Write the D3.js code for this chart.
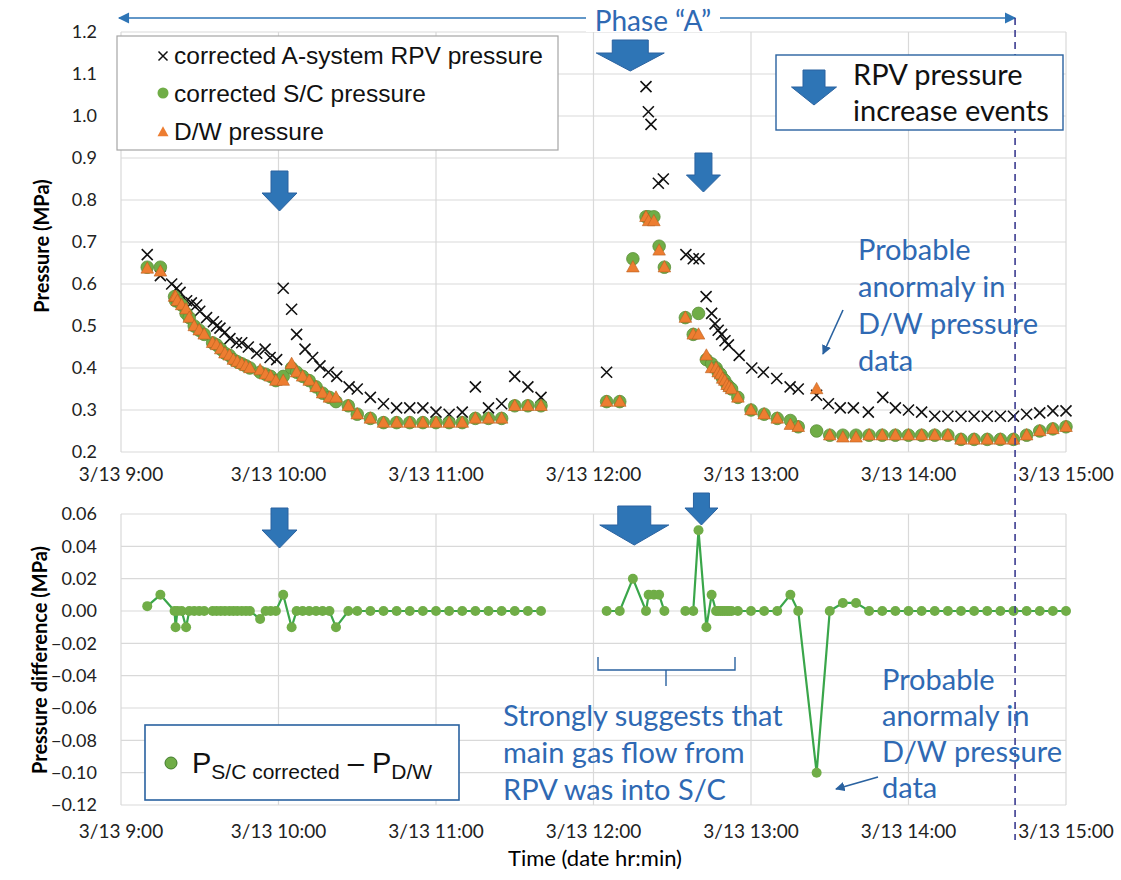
<!DOCTYPE html>
<html><head><meta charset="utf-8">
<script src="https://cdn.jsdelivr.net/npm/d3@7"></script>
<style>body{margin:0;background:#fff} svg{display:block}</style>
</head><body><svg id="c" width="1121" height="880"></svg>
<script>
// ---------- DATA (minutes after 3/13 9:00) ----------
const xTickMinutes = [0, 60, 120, 180, 240, 300, 360];
const xTickLabels = ["3/13 9:00", "3/13 10:00", "3/13 11:00", "3/13 12:00", "3/13 13:00", "3/13 14:00", "3/13 15:00"];
const pressureTicks = [0.2, 0.3, 0.4, 0.5, 0.6, 0.7, 0.8, 0.9, 1.0, 1.1, 1.2];
const diffTicks = [-0.12, -0.10, -0.08, -0.06, -0.04, -0.02, 0.00, 0.02, 0.04, 0.06];

// corrected A-system RPV pressure (MPa)
const rpvMinutes = [10, 15, 19.3, 21.2, 22.5, 25, 26.8, 28.8, 30, 32.6, 35.2, 36.4, 37.7, 39.6, 41.5, 44, 46, 48.5, 51.7, 54.9, 56.8, 59.3,
  61.8, 65, 66.9, 70.1, 73, 75.8, 79, 82.2, 86.9, 90, 95, 100, 105, 110, 115, 120, 125, 130, 135, 140, 145, 150, 155, 160,
  185, 200, 200.9, 201.9, 204.7, 206.6, 215.2, 218, 220.2, 222.9, 225, 226.3, 227.5, 228.8, 230.1, 231.4, 235.5, 240.3, 244.7,
  249.8, 254.9, 258, 265, 269.5, 274, 279, 284.7, 290.2, 295, 300, 305, 310, 315, 320, 325, 330, 335, 340, 345, 350, 355, 360];
const rpvPressure = [0.67, 0.62, 0.60, 0.59, 0.58, 0.56, 0.555, 0.55, 0.535, 0.52, 0.51, 0.50, 0.495, 0.485, 0.47, 0.46, 0.46, 0.45, 0.435, 0.445, 0.425, 0.42,
  0.59, 0.54, 0.48, 0.445, 0.425, 0.405, 0.39, 0.38, 0.355, 0.35, 0.33, 0.315, 0.305, 0.305, 0.305, 0.295, 0.29, 0.295, 0.355, 0.305, 0.315, 0.38, 0.355, 0.33,
  0.39, 1.07, 1.01, 0.98, 0.84, 0.85, 0.67, 0.66, 0.66, 0.57, 0.53, 0.505, 0.49, 0.48, 0.465, 0.455, 0.43, 0.40, 0.39,
  0.375, 0.355, 0.35, 0.335, 0.315, 0.305, 0.305, 0.295, 0.33, 0.305, 0.30, 0.295, 0.285, 0.285, 0.285, 0.285, 0.285, 0.285, 0.285, 0.29, 0.293, 0.298, 0.298];

// S/C and D/W samples share one time base
const sampleMinutes = [10, 15, 20.4, 20.8, 21.5, 23.1, 24.8, 26, 27.9, 29.8, 31.7, 34.9, 36.4, 38, 39.6, 41.3, 42.8, 44.3, 46, 47.6, 49.1,
  53, 55.1, 57, 59, 61.8, 65, 66.9, 69.2, 71.7, 74.3, 76.8, 79.4, 81.9, 86.6, 90, 95, 100, 105, 110, 115, 120, 125, 130, 135, 140, 145, 150, 155, 160,
  185, 190, 195, 200, 201, 203, 205, 207, 215, 218, 220, 223, 225, 226.7, 227.5, 228.4, 229.2, 230, 230.9, 231.7, 232.6,
  235, 240, 245, 250, 255, 258, 265, 270, 275, 280, 285, 290, 295, 300, 305, 310, 315, 320, 325, 330, 335, 340, 345, 350, 355, 360];
const scPressure = [0.64, 0.64, 0.57, 0.56, 0.56, 0.55, 0.53, 0.52, 0.50, 0.49, 0.48, 0.46, 0.455, 0.445, 0.435, 0.43, 0.42, 0.415, 0.41, 0.405, 0.40,
  0.39, 0.385, 0.38, 0.37, 0.38, 0.40, 0.39, 0.38, 0.37, 0.355, 0.34, 0.33, 0.32, 0.31, 0.29, 0.28, 0.27, 0.27, 0.27, 0.27, 0.27, 0.27, 0.27, 0.28, 0.28, 0.28, 0.31, 0.31, 0.31,
  0.32, 0.32, 0.66, 0.76, 0.76, 0.76, 0.69, 0.64, 0.52, 0.48, 0.53, 0.42, 0.41, 0.40, 0.39, 0.385, 0.375, 0.37, 0.36, 0.355, 0.35,
  0.33, 0.30, 0.29, 0.28, 0.275, 0.26, 0.25, 0.24, 0.24, 0.24, 0.24, 0.24, 0.24, 0.24, 0.24, 0.24, 0.24, 0.23, 0.23, 0.23, 0.23, 0.23, 0.24, 0.25, 0.255, 0.26];
const dwPressure = [0.637, 0.63, 0.57, 0.57, 0.56, 0.55, 0.54, 0.52, 0.50, 0.49, 0.48, 0.46, 0.455, 0.445, 0.435, 0.43, 0.42, 0.415, 0.41, 0.405, 0.40,
  0.395, 0.385, 0.38, 0.37, 0.37, 0.41, 0.39, 0.38, 0.37, 0.355, 0.34, 0.33, 0.33, 0.31, 0.29, 0.28, 0.27, 0.27, 0.27, 0.27, 0.27, 0.27, 0.27, 0.28, 0.28, 0.28, 0.31, 0.31, 0.31,
  0.32, 0.32, 0.64, 0.76, 0.75, 0.75, 0.68, 0.64, 0.52, 0.48, 0.48, 0.43, 0.40, 0.40, 0.39, 0.385, 0.375, 0.37, 0.36, 0.355, 0.35,
  0.33, 0.30, 0.29, 0.28, 0.265, 0.26, 0.35, 0.24, 0.235, 0.235, 0.24, 0.24, 0.24, 0.24, 0.24, 0.24, 0.24, 0.23, 0.23, 0.23, 0.23, 0.23, 0.24, 0.25, 0.255, 0.26];
// P_S/C corrected - P_D/W (MPa)
const pressureDiff = [0.003, 0.01, 0, -0.01, 0, 0, -0.01, 0, 0, 0, 0, 0, 0, 0, 0, 0, 0, 0, 0, 0, 0,
  -0.005, 0, 0, 0, 0.01, -0.01, 0, 0, 0, 0, 0, 0, -0.01, 0, 0, 0, 0, 0, 0, 0, 0, 0, 0, 0, 0, 0, 0, 0, 0,
  0, 0, 0.02, 0, 0.01, 0.01, 0.01, 0, 0, 0, 0.05, -0.01, 0.01, 0, 0, 0, 0, 0, 0, 0, 0,
  0, 0, 0, 0, 0.01, 0, -0.10, 0, 0.005, 0.005, 0, 0, 0, 0, 0, 0, 0, 0, 0, 0, 0, 0, 0, 0, 0, 0];
const diffLineBreaksAfter = [160, 207];   // no line drawn across these gaps
const phaseAEndMinute = 340.6;
const eventMinutesTop = [60, 194, 221.5];

// ---------- LAYOUT ----------
const svg = d3.select("#c");
const L = 121, R = 1066;
const x = d3.scaleLinear().domain([0, 360]).range([L, R]);
const yT = d3.scaleLinear().domain([0.2, 1.2]).range([452, 32]);
const yB = d3.scaleLinear().domain([-0.12, 0.06]).range([805, 514]);
const blue = "#2e75b6", txtBlue = "#2f69b3", grid = "#d9d9d9";
const tickFont = "Lato, 'Open Sans', sans-serif";

function gridAndAxes(y, ticks, fmt, top, bottom, xLabelY) {
  const g = svg.append("g");
  g.selectAll("line.h").data(ticks).join("line")
    .attr("x1", L).attr("x2", R).attr("y1", d => y(d)).attr("y2", d => y(d))
    .attr("stroke", grid).attr("stroke-width", 1.2);
  g.selectAll("line.v").data(xTickMinutes).join("line")
    .attr("x1", d => x(d)).attr("x2", d => x(d)).attr("y1", top).attr("y2", bottom)
    .attr("stroke", grid).attr("stroke-width", 1.2);
  g.selectAll("text.yl").data(ticks).join("text")
    .attr("x", 97).attr("y", d => y(d)).attr("dy", "0.35em").attr("text-anchor", "end")
    .attr("font-family", tickFont).attr("font-size", 18).attr("fill", "#222")
    .text(d => fmt(d));
  g.selectAll("text.xl").data(xTickMinutes).join("text")
    .attr("x", d => x(d)).attr("y", xLabelY).attr("dy", "0.35em").attr("text-anchor", "middle")
    .attr("font-family", tickFont).attr("font-size", 19).attr("fill", "#222")
    .text((d, i) => xTickLabels[i]);
}
gridAndAxes(yT, pressureTicks, d3.format(".1f"), 32, 452, 474);
gridAndAxes(yB, diffTicks, d3.format(".2f"), 514, 805, 831);

// axis titles
svg.append("text").attr("transform", "translate(49,246) rotate(-90)").attr("text-anchor", "middle")
  .attr("font-family", tickFont).attr("font-weight", "bold").attr("font-size", 20).text("Pressure (MPa)");
svg.append("text").attr("transform", "translate(47,660) rotate(-90)").attr("text-anchor", "middle")
  .attr("font-family", tickFont).attr("font-weight", "bold").attr("font-size", 20).text("Pressure difference (MPa)");
svg.append("text").attr("x", 595).attr("y", 866).attr("text-anchor", "middle")
  .attr("font-family", tickFont).attr("font-size", 22).text("Time (date hr:min)");

// ---------- MARKS ----------
const xMark = s => `M${-s},${-s}L${s},${s}M${-s},${s}L${s},${-s}`;
const triPath = s => `M0,${-s * 1.05}L${s},${s * 0.75}L${-s},${s * 0.75}Z`;

const rpv = rpvMinutes.map((m, i) => ({ m, v: rpvPressure[i] }));
const samples = sampleMinutes.map((m, i) => ({ m, sc: scPressure[i], dw: dwPressure[i], d: pressureDiff[i] }));

svg.append("g").selectAll("path").data(rpv).join("path")
  .attr("transform", d => `translate(${x(d.m)},${yT(d.v)})`).attr("d", xMark(5.5))
  .attr("stroke", "#111").attr("stroke-width", 1.6).attr("fill", "none");
svg.append("g").selectAll("circle").data(samples).join("circle")
  .attr("cx", d => x(d.m)).attr("cy", d => yT(d.sc)).attr("r", 6.3)
  .attr("fill", "#70ad47").attr("stroke", "#5a8f38").attr("stroke-width", 0.8);
svg.append("g").selectAll("path").data(samples).join("path")
  .attr("transform", d => `translate(${x(d.m)},${yT(d.dw)})`).attr("d", triPath(6.3))
  .attr("fill", "#ed7d31").attr("stroke", "#b9601f").attr("stroke-width", 0.6);

// difference series
const segs = [];
let cur = [];
samples.forEach(d => { cur.push(d); if (diffLineBreaksAfter.includes(d.m)) { segs.push(cur); cur = []; } });
if (cur.length) segs.push(cur);
const line = d3.line().x(d => x(d.m)).y(d => yB(d.d));
svg.append("g").selectAll("path").data(segs).join("path")
  .attr("d", line).attr("fill", "none").attr("stroke", "#3aa64a").attr("stroke-width", 2.2);
svg.append("g").selectAll("circle").data(samples).join("circle")
  .attr("cx", d => x(d.m)).attr("cy", d => yB(d.d)).attr("r", 5).attr("fill", "#70ad47");

// ---------- ANNOTATIONS ----------
function blockArrow(cx, top, sw, sb, hw, tip) {
  const p = [[cx - sw / 2, top], [cx + sw / 2, top], [cx + sw / 2, sb], [cx + hw / 2, sb], [cx, tip], [cx - hw / 2, sb], [cx - sw / 2, sb]];
  svg.append("path").attr("d", "M" + p.map(q => q.join(",")).join("L") + "Z")
    .attr("fill", blue).attr("stroke", "#2a62a0").attr("stroke-width", 1);
}
blockArrow(x(eventMinutesTop[0]) + 1, 171, 17, 193, 35, 211);
blockArrow(x(eventMinutesTop[1]), 40, 36, 53, 68, 71);
blockArrow(x(eventMinutesTop[2]) + 1, 153, 17, 175, 34, 192);
blockArrow(x(eventMinutesTop[0]) + 1, 508, 17, 530, 35, 548);
blockArrow(x(eventMinutesTop[1]) + 4, 506, 33, 525, 69, 545);
blockArrow(x(eventMinutesTop[2]) - 1, 493, 16, 508, 33, 525);

// Phase A arrow
const defs = svg.append("defs");
defs.append("marker").attr("id", "ah").attr("viewBox", "0 0 10 10").attr("refX", 9).attr("refY", 5)
  .attr("markerWidth", 9).attr("markerHeight", 7).attr("orient", "auto-start-reverse")
  .append("path").attr("d", "M0,0L10,5L0,10Z").attr("fill", blue);
svg.append("line").attr("x1", 119).attr("x2", x(phaseAEndMinute)).attr("y1", 18).attr("y2", 18)
  .attr("stroke", blue).attr("stroke-width", 1.6)
  .attr("marker-start", "url(#ah)").attr("marker-end", "url(#ah)");
svg.append("rect").attr("x", 586).attr("y", 2).attr("width", 134).attr("height", 30).attr("fill", "#fff");
svg.append("text").attr("x", 653).attr("y", 31).attr("text-anchor", "middle")
  .attr("font-family", tickFont).attr("font-size", 28).attr("fill", txtBlue).text("Phase “A”");

// dashed end of phase A
svg.append("line").attr("x1", x(phaseAEndMinute)).attr("x2", x(phaseAEndMinute)).attr("y1", 18).attr("y2", 840)
  .attr("stroke", "#3c3c90").attr("stroke-width", 1.6).attr("stroke-dasharray", "7,5");

// top legend
const lg = svg.append("g");
lg.append("rect").attr("x", 117).attr("y", 36).attr("width", 441).attr("height", 114)
  .attr("fill", "#fff").attr("stroke", "#a6a6a6").attr("stroke-width", 1.2);
const legItems = ["corrected A-system RPV pressure", "corrected S/C pressure", "D/W pressure"];
legItems.forEach((t, i) => {
  const cy = 55 + i * 38;
  lg.append("text").attr("x", 174).attr("y", cy).attr("dy", "0.36em")
    .attr("font-family", "'Liberation Sans', Arial, sans-serif").attr("font-size", 24.5).attr("fill", "#111").text(t);
});
lg.append("path").attr("transform", "translate(163,56)").attr("d", xMark(4.5)).attr("stroke", "#111").attr("stroke-width", 1.5);
lg.append("circle").attr("cx", 163).attr("cy", 93).attr("r", 5.5).attr("fill", "#70ad47");
lg.append("path").attr("transform", "translate(163,132)").attr("d", triPath(5.5)).attr("fill", "#ed7d31");

// RPV event legend box
svg.append("rect").attr("x", 776).attr("y", 55).attr("width", 287).attr("height", 75)
  .attr("fill", "#fff").attr("stroke", "#2a62a0").attr("stroke-width", 1.4);
blockArrow(814, 70, 22, 87, 45, 105);
["RPV pressure", "increase events"].forEach((t, i) => {
  svg.append("text").attr("x", 853).attr("y", 75 + i * 36).attr("dy", "0.36em")
    .attr("font-family", tickFont).attr("font-size", 29).attr("fill", "#111").text(t);
});

// blue notes
function note(lines, x0, y0, dy) {
  lines.forEach((t, i) => svg.append("text").attr("x", x0).attr("y", y0 + i * dy).attr("dy", "0.36em")
    .attr("font-family", tickFont).attr("font-size", 29).attr("fill", txtBlue).text(t));
}
note(["Probable", "anormaly in", "D/W pressure", "data"], 858, 250, 37);
note(["Probable", "anormaly in", "D/W pressure", "data"], 882, 680, 36);
note(["Strongly suggests that", "main gas flow from", "RPV was into S/C"], 503, 716, 37);

defs.append("marker").attr("id", "ah2").attr("viewBox", "0 0 10 10").attr("refX", 9).attr("refY", 5)
  .attr("markerWidth", 6).attr("markerHeight", 6).attr("orient", "auto")
  .append("path").attr("d", "M0,0L10,5L0,10Z").attr("fill", "#2a62a0");
svg.append("line").attr("x1", 843).attr("y1", 310).attr("x2", 823).attr("y2", 354)
  .attr("stroke", "#2a62a0").attr("stroke-width", 1.6).attr("marker-end", "url(#ah2)");
svg.append("line").attr("x1", 878).attr("y1", 777).attr("x2", 836).attr("y2", 789)
  .attr("stroke", "#2a62a0").attr("stroke-width", 1.6).attr("marker-end", "url(#ah2)");

// bracket
svg.append("path").attr("d", "M598,657L598,670L735,670L735,657M666,670L666,686")
  .attr("fill", "none").attr("stroke", "#2a62a0").attr("stroke-width", 1.4);

// bottom legend
svg.append("rect").attr("x", 145).attr("y", 725).attr("width", 314).attr("height", 75)
  .attr("fill", "#fff").attr("stroke", "#2a62a0").attr("stroke-width", 1.6);
svg.append("circle").attr("cx", 171).attr("cy", 763).attr("r", 6).attr("fill", "#70ad47").attr("stroke", "#3f7a2a");
const lt = svg.append("text").attr("x", 192).attr("y", 773).attr("font-family", "'Liberation Sans', Arial, sans-serif")
  .attr("font-size", 29).attr("fill", "#111");
lt.append("tspan").text("P");
lt.append("tspan").attr("font-size", 21).attr("dy", 6).text("S/C corrected");
lt.append("tspan").attr("dy", -6).text(" – P");
lt.append("tspan").attr("font-size", 21).attr("dy", 6).text("D/W");
</script></body></html>
